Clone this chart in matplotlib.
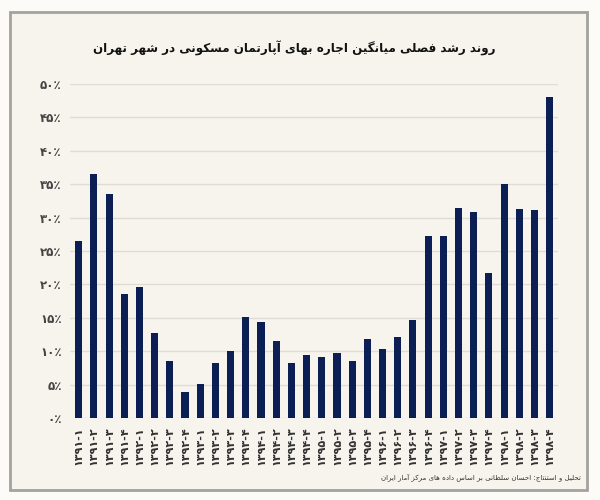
import matplotlib
matplotlib.use("Agg")
import matplotlib.pyplot as plt
from matplotlib.patches import Rectangle

# quarters 1391-1 .. 1398-4 (Persian digits)
years = ["۱۳۹۱", "۱۳۹۲", "۱۳۹۳", "۱۳۹۴", "۱۳۹۵", "۱۳۹۶", "۱۳۹۷", "۱۳۹۸"]
quarters = ["۱", "۲", "۳", "۴"]
labels = [f"{y}-{q}" for y in years for q in quarters]

# seasonal growth of average rent (%)
growth = [26.5, 36.6, 33.6, 18.5, 19.6, 12.7, 8.6, 3.9,
          5.1, 8.3, 10.1, 15.1, 14.3, 11.6, 8.3, 9.4,
          9.2, 9.8, 8.6, 11.8, 10.4, 12.1, 14.7, 27.3,
          27.3, 31.5, 30.9, 21.7, 35.0, 31.3, 31.1, 48.1]

yticks = [0, 5, 10, 15, 20, 25, 30, 35, 40, 45, 50]
ytick_labels = ["۰٪", "۵٪", "۱۰٪", "۱۵٪", "۲۰٪", "۲۵٪", "۳۰٪", "۳۵٪", "۴۰٪", "۴۵٪", "۵۰٪"]

title = "روند رشد فصلی میانگین اجاره بهای آپارتمان مسکونی در شهر تهران"
source = "تحلیل و استنتاج: احسان سلطانی بر اساس داده های مرکز آمار ایران"

# arabic presentation forms: isolated, final, initial, medial
FORMS = {
    "ا": "\uFE8D\uFE8E", "آ": "\uFE81\uFE82",
    "ب": "\uFE8F\uFE90\uFE91\uFE92", "پ": "\uFB56\uFB57\uFB58\uFB59",
    "ت": "\uFE95\uFE96\uFE97\uFE98", "ج": "\uFE9D\uFE9E\uFE9F\uFEA0",
    "ح": "\uFEA1\uFEA2\uFEA3\uFEA4", "د": "\uFEA9\uFEAA",
    "ر": "\uFEAD\uFEAE", "ز": "\uFEAF\uFEB0",
    "س": "\uFEB1\uFEB2\uFEB3\uFEB4", "ش": "\uFEB5\uFEB6\uFEB7\uFEB8",
    "ص": "\uFEB9\uFEBA\uFEBB\uFEBC", "ط": "\uFEC1\uFEC2\uFEC3\uFEC4",
    "ف": "\uFED1\uFED2\uFED3\uFED4", "ک": "\uFB8E\uFB8F\uFB90\uFB91",
    "گ": "\uFB92\uFB93\uFB94\uFB95", "ل": "\uFEDD\uFEDE\uFEDF\uFEE0",
    "م": "\uFEE1\uFEE2\uFEE3\uFEE4", "ن": "\uFEE5\uFEE6\uFEE7\uFEE8",
    "ه": "\uFEE9\uFEEA\uFEEB\uFEEC", "و": "\uFEED\uFEEE",
    "ی": "\uFBFC\uFBFD\uFBFE\uFBFF",
}


def shape(text):
    """join letters and put them in visual (left-to-right) order"""
    out = []
    for i, c in enumerate(text):
        if c not in FORMS:
            out.append(c)
            continue
        prev = text[i - 1] if i > 0 else ""
        nxt = text[i + 1] if i + 1 < len(text) else ""
        f = FORMS[c]
        jp = prev in FORMS and len(FORMS[prev]) == 4
        jn = len(f) == 4 and nxt in FORMS
        if jp and jn:
            out.append(f[3])
        elif jp:
            out.append(f[1])
        elif jn:
            out.append(f[2])
        else:
            out.append(f[0])
    return "".join(reversed(out))


plt.rcParams["font.family"] = ["DejaVu Sans"]

fig = plt.figure(figsize=(6, 5), dpi=100, facecolor="#fcfbf7")
fig.patches.append(Rectangle((0.017, 0.021), 0.961, 0.955, transform=fig.transFigure,
                             facecolor="#f7f4ed", edgecolor="#a3a39d", linewidth=2.0,
                             zorder=-1))

ax = fig.add_axes([0.117, 0.164, 0.813, 0.668])
ax.set_facecolor("none")
x = list(range(len(growth)))
ax.bar(x, growth, width=0.47, color="#0c1f55", zorder=3)

ax.set_ylim(0, 50)
ax.set_xlim(-0.56, 31.55)
ax.set_yticks(yticks)
ax.set_yticklabels(ytick_labels, fontsize=8.5, fontweight="bold", color="#444444")
ax.set_xticks(x)
ax.set_xticklabels(labels, rotation=90, fontsize=8, fontweight="bold", color="#333333")
ax.tick_params(length=0, pad=6)
ax.grid(axis="y", color="#dfdcd5", linewidth=1.0, zorder=0)
for s in ax.spines.values():
    s.set_visible(False)

fig.text(0.49, 0.904, shape(title), ha="center", va="center", fontsize=8.6,
         fontweight="bold", color="#111111")
fig.text(0.968, 0.046, shape(source), ha="right", va="center", fontsize=5.0,
         color="#333333")

fig.savefig("out.png", dpi=100, facecolor=fig.get_facecolor())
